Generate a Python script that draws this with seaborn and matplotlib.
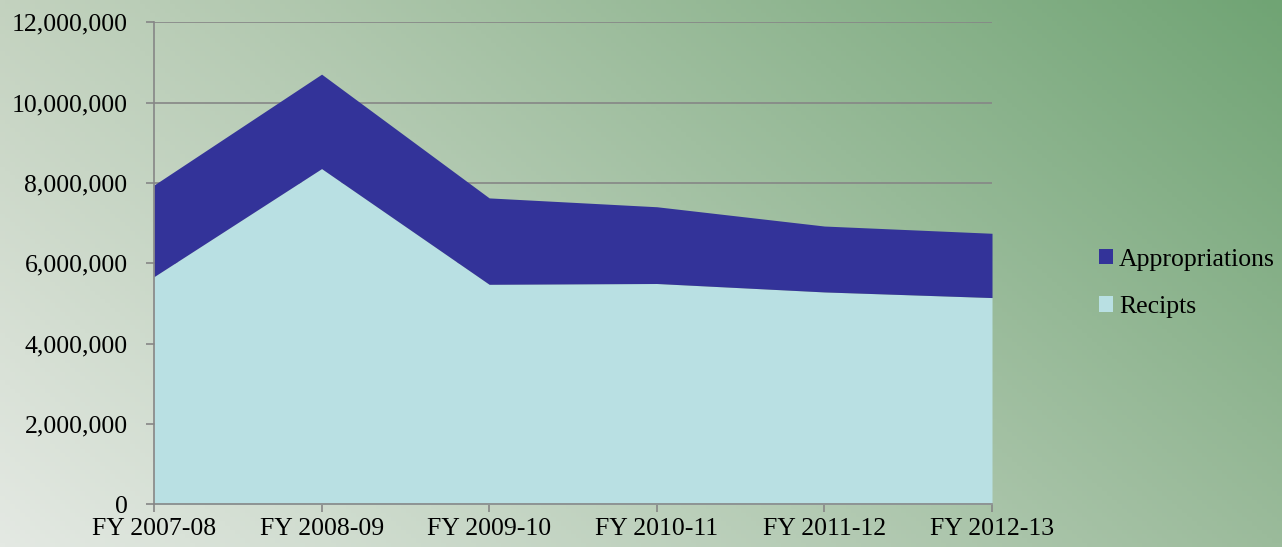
import numpy as np
import pandas as pd
import matplotlib as mpl
mpl.use("Agg")
import matplotlib.pyplot as plt
from matplotlib.colors import to_rgb
from matplotlib.ticker import FuncFormatter
import seaborn as sns

years = ["FY 2007-08", "FY 2008-09", "FY 2009-10", "FY 2010-11", "FY 2011-12", "FY 2012-13"]
recipts = [5670000, 8360000, 5480000, 5500000, 5290000, 5150000]
appropriations = [2280000, 2350000, 2150000, 1910000, 1640000, 1600000]

sns.set_theme(style="white")
plt.rcParams["font.family"] = ["Liberation Serif", "DejaVu Serif"]

df = pd.DataFrame({"Year": years, "Recipts": recipts, "Appropriations": appropriations})

fig = plt.figure(figsize=(12.82, 5.47), dpi=100)

# Gradient background (bottom-left light grey -> top-right green)
bg = fig.add_axes([0, 0, 1, 1], zorder=-1)
bg.axis("off")
tl, tr = np.array(to_rgb("#c3d2bf")), np.array(to_rgb("#70a474"))
bl, br = np.array(to_rgb("#e4e9e3")), np.array(to_rgb("#9bbb9b"))
u = np.linspace(0, 1, 256)[None, :, None]
v = np.linspace(0, 1, 128)[:, None, None]
grad = (1 - v) * ((1 - u) * tl + u * tr) + v * ((1 - u) * bl + u * br)
bg.imshow(grad, aspect="auto", extent=[0, 1, 0, 1])

ax = fig.add_axes([0.1201, 0.0777, 0.6537, 0.8815])
ax.set_facecolor("none")
x = np.arange(len(df))
polys = ax.stackplot(x, df["Recipts"], df["Appropriations"],
                     colors=["#b9e0e3", "#333399"],
                     labels=["Recipts", "Appropriations"], linewidth=0)

ax.set_xlim(0, len(df) - 1)
ax.set_ylim(0, 12000000)
ax.set_yticks(np.arange(0, 12000001, 2000000))
ax.yaxis.set_major_formatter(FuncFormatter(lambda v, p: f"{int(v):,}"))
ax.set_xticks(x)
ax.set_xticklabels(df["Year"])
ax.grid(axis="y", color="#868686", linewidth=1.2, zorder=0)
ax.set_axisbelow(True)
sns.despine(ax=ax, top=True, right=True)
for s in ["left", "bottom"]:
    ax.spines[s].set_color("#868686")
    ax.spines[s].set_linewidth(1.2)
ax.tick_params(axis="both", which="major", labelsize=18.5, colors="#868686",
               labelcolor="black", length=6, width=1.2, direction="out",
               left=True, bottom=True)
ax.tick_params(axis="y", pad=13)
ax.tick_params(axis="x", pad=4)

handles, labels = ax.get_legend_handles_labels()
fig.legend(handles[::-1], labels[::-1], loc="center left",
           bbox_to_anchor=(0.857, 0.482), frameon=False, fontsize=18.5,
           handlelength=0.55, handleheight=0.55, handletextpad=0.25,
           labelspacing=0.98, borderaxespad=0, borderpad=0,
           labelcolor="black")

fig.savefig("out.png", dpi=100)
